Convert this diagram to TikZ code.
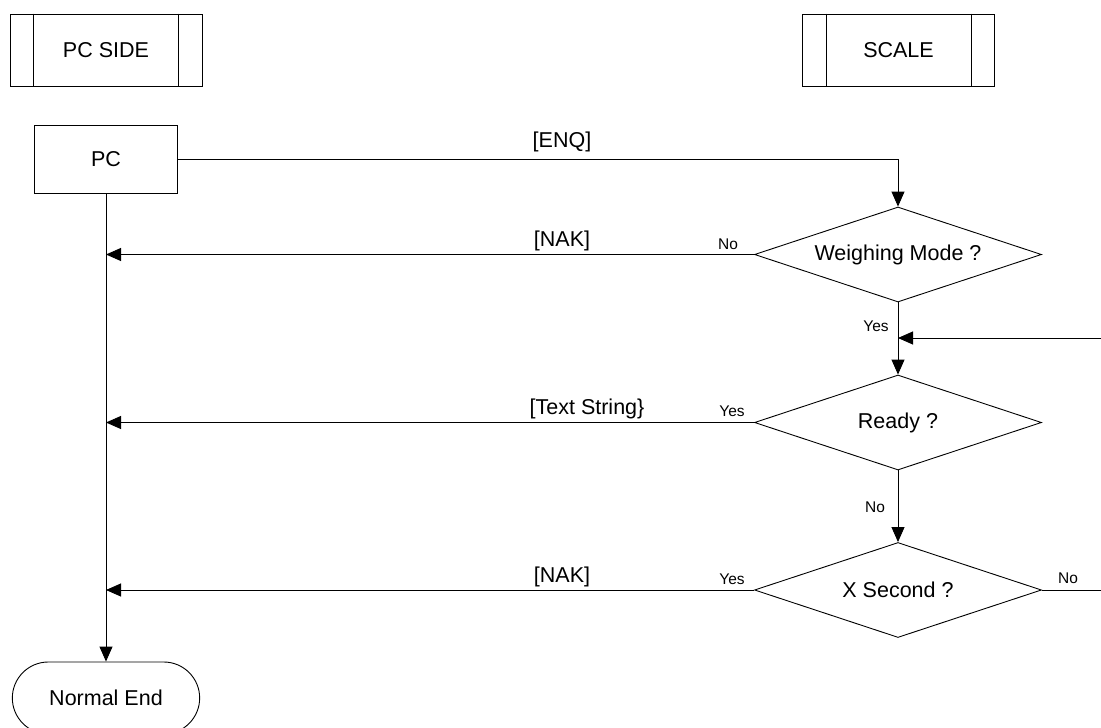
\documentclass[tikz,border=0pt]{standalone}
\usepackage{fontspec}
\setmainfont{Liberation Sans}
\usetikzlibrary{arrows.meta,shapes.geometric,shapes.misc,positioning}

\begin{document}
\begin{tikzpicture}[x=1pt, y=-1pt, line width=0.9pt,
    every node/.style={font=\fontsize{21.5}{25}\selectfont},
    lane/.style={draw, minimum width=192pt, minimum height=72pt},
    proc/.style={draw, minimum width=143pt, minimum height=68pt},
    decide/.style={draw, diamond, aspect=3, inner sep=0pt, minimum width=287pt, minimum height=95pt},
    term/.style={draw, rounded rectangle, minimum width=194pt, minimum height=72pt},
    msg/.style={inner sep=0pt},
    tag/.style={inner sep=0pt, font=\fontsize{15.5}{18}\selectfont},
    flow/.style={-{Triangle[length=15pt,width=13pt]}}]
    \useasboundingbox (0,0) rectangle (1101,728);

    % swim lane headers
    \node[lane] (pcside) at (106,50) {PC SIDE};
    \node[lane] (scale) at (898.5,50) {SCALE};
    \foreach \n in {pcside, scale} {
        \draw ([xshift=24pt]\n.north west) -- ([xshift=24pt]\n.south west);
        \draw ([xshift=-24pt]\n.north east) -- ([xshift=-24pt]\n.south east);
    }

    \node[proc] (pc) at (106,159) {PC};
    \node[decide] (wmode) at (898,254.5) {Weighing Mode ?};
    \node[decide] (ready) at (898,422.5) {Ready ?};
    \node[decide] (xsec) at (898,590) {X Second ?};
    \node[term] (nend) at (106,698) {Normal End};

    \coordinate (join) at (898,338);
    \coordinate (loopR) at (1104,590);

    % PC side
    \draw[flow] (pc.south) -- (nend.north);
    \draw[flow] (pc.east) -| (wmode.north);
    \node[msg] (enq) at (562,142) {[ENQ]};

    % scale side
    \draw (wmode.south) -- (join);
    \draw[flow] (join) -- (ready.north);
    \draw[flow] (ready.south) -- (xsec.north);
    \draw[flow] (xsec.east) -- (loopR) |- (join);

    \draw[flow] (wmode.west) -- (wmode.west -| pc.south);
    \draw[flow] (ready.west) -- (ready.west -| pc.south);
    \draw[flow] (xsec.west) -- (xsec.west -| pc.south);

    \node[msg] (nak1) at (562,241) {[NAK]};
    \node[msg] (text) at (587,409) {[Text String\}};
    \node[msg] (nak2) at (562,577) {[NAK]};

    \node[tag] (no1) at (728,244) {No};
    \node[tag] (yes1) at (876,326) {Yes};
    \node[tag] (yes2) at (732,411) {Yes};
    \node[tag] (no2) at (875,507) {No};
    \node[tag] (yes3) at (732,579) {Yes};
    \node[tag] (no3) at (1068,578) {No};
\end{tikzpicture}
\end{document}
